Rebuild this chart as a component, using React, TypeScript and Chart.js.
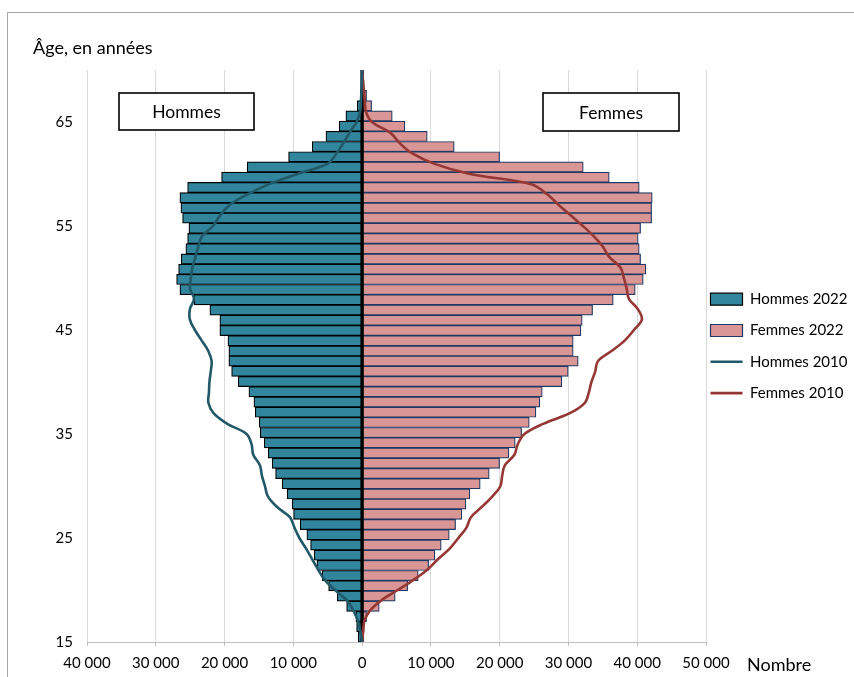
import React, { useEffect, useRef } from 'react';
import { Chart, registerables } from 'chart.js';

Chart.register(...registerables);

const FONT = 'Lato, "Noto Sans", sans-serif';

// Ages (one bar per year of age, 15 to 70)
const AGES = [
  15, 16, 17, 18, 19, 20, 21, 22, 23, 24, 25, 26, 27, 28, 29, 30, 31, 32, 33, 34,
  35, 36, 37, 38, 39, 40, 41, 42, 43, 44, 45, 46, 47, 48, 49, 50, 51, 52, 53, 54,
  55, 56, 57, 58, 59, 60, 61, 62, 63, 64, 65, 66, 67, 68, 69, 70,
];

const HOMMES_2022 = [
  -570, -800, -900, -2250, -3620, -4870, -5800, -6570, -6960, -7490,
  -8030, -9000, -9960, -10160, -10890, -11620, -12580, -13070, -13650, -14230,
  -14810, -14960, -15540, -15730, -16460, -18010, -18970, -19370, -19370, -19510,
  -20680, -20680, -22130, -24410, -26490, -26970, -26680, -26300, -25620, -25370,
  -25180, -26100, -26340, -26490, -25370, -20430, -16710, -10690, -7250, -5260,
  -3330, -2360, -710, -250, -100, -40,
];

const FEMMES_2022 = [
  150, 300, 650, 2490, 4810, 6620, 8160, 9670, 10580, 11500,
  12670, 13590, 14510, 15090, 15670, 17170, 18480, 19990, 21340, 22260,
  23190, 24300, 25270, 25850, 26190, 29050, 29970, 31420, 30690, 30690,
  31810, 32000, 33510, 36510, 39710, 40870, 41260, 40490, 40290, 40140,
  40490, 42090, 42090, 42180, 40290, 35930, 32150, 19990, 13390, 9470,
  6220, 4380, 1380, 650, 300, 100,
];

const HOMMES_2010 = [
  0, -250, -600, -1250, -2210, -3950, -5470, -6430, -7300, -8170,
  -9120, -9840, -10500, -12400, -13700, -14130, -14570, -14860, -15830, -16070,
  -16800, -19660, -21600, -22350, -22270, -22200, -22010, -21880, -22380, -23340,
  -24310, -25040, -25040, -24450, -25040, -24890, -24670, -24240, -23830, -23290,
  -21690, -20670, -19300, -16800, -13600, -9400, -5000, -3700, -2700, -1800,
  -800, -300, -170, -100, -30, 0,
];

const FEMMES_2010 = [
  0, 150, 330, 1130, 2800, 5200, 7530, 9570, 11090, 12770,
  14000, 15170, 15820, 17420, 18950, 20110, 20370, 20760, 22140, 22620,
  23600, 26400, 30200, 32390, 32970, 33340, 33890, 34280, 36320, 38210,
  39520, 40680, 40100, 38790, 38460, 38060, 37560, 35960, 35000, 33700,
  32100, 30360, 28620, 27000, 24700, 15700, 10440, 7240, 5420, 4040,
  1430, 550, 400, 260, 120, 0,
];

const AGE_TICKS = [15, 25, 35, 45, 55, 65];
const NUMBER_TICKS = [-40000, -30000, -20000, -10000, 0, 10000, 20000, 30000, 40000, 50000];
const SERIES = ['Hommes 2022', 'Femmes 2022', 'Hommes 2010', 'Femmes 2010'];
const Y_TITLE = 'Âge, en années';
const X_TITLE = 'Nombre';
const SIDE_LABELS = ['Hommes', 'Femmes'];

const COL_H22 = '#31859C';
const COL_F22 = '#D99694';
const COL_H10 = '#215968';
const COL_F10 = '#953735';

const fmt = (v: number) => String(Math.abs(v)).replace(/\B(?=(\d{3})+(?!\d))/g, ' ');

const decorations = {
  id: 'decorations',
  afterDraw(chart: any) {
    const { ctx, chartArea } = chart;
    ctx.save();
    ctx.fillStyle = '#000';
    ctx.font = `18px ${FONT}`;
    ctx.textAlign = 'left';
    ctx.textBaseline = 'alphabetic';
    ctx.fillText(Y_TITLE, 33, 54);
    ctx.textBaseline = 'middle';
    ctx.fillText(X_TITLE, chartArea.right + 41, 665);

    const boxes = [
      { text: SIDE_LABELS[0], x: 119, y: 93, w: 135, h: 37 },
      { text: SIDE_LABELS[1], x: 543, y: 93, w: 136, h: 38 },
    ];
    for (const b of boxes) {
      ctx.fillStyle = '#fff';
      ctx.fillRect(b.x, b.y, b.w, b.h);
      ctx.strokeStyle = '#000';
      ctx.lineWidth = 1.6;
      ctx.strokeRect(b.x, b.y, b.w, b.h);
      ctx.fillStyle = '#000';
      ctx.font = `17.5px ${FONT}`;
      ctx.textAlign = 'center';
      ctx.textBaseline = 'middle';
      ctx.fillText(b.text, b.x + b.w / 2, b.y + b.h / 2 + 1);
    }
    ctx.restore();
  },
};

const RANK: Record<number, number> = { 3: 0, 4: 1, 0: 2, 1: 3 };

export default function App() {
  const ref = useRef<HTMLCanvasElement>(null);

  useEffect(() => {
    if (!ref.current) return;
    const chart = new Chart(ref.current, {
      type: 'bar',
      data: {
        datasets: [
          {
            type: 'line',
            label: SERIES[2],
            data: AGES.map((a, i) => ({ x: HOMMES_2010[i], y: a })),
            yAxisID: 'y',
            xAxisID: 'x',
            indexAxis: 'y',
            borderColor: COL_H10,
            backgroundColor: COL_H10,
            borderWidth: 2.6,
            pointRadius: 0,
            tension: 0.35,
          } as any,
          {
            type: 'line',
            label: SERIES[3],
            data: AGES.map((a, i) => ({ x: FEMMES_2010[i], y: a })),
            yAxisID: 'y',
            xAxisID: 'x',
            indexAxis: 'y',
            borderColor: COL_F10,
            backgroundColor: COL_F10,
            borderWidth: 2.6,
            pointRadius: 0,
            tension: 0.35,
          } as any,
          {
            type: 'line',
            label: 'axe',
            data: [
              { x: 0, y: AGES[0] },
              { x: 0, y: AGES[AGES.length - 1] },
            ],
            yAxisID: 'y',
            xAxisID: 'x',
            indexAxis: 'y',
            borderColor: '#000',
            borderWidth: 3.4,
            pointRadius: 0,
          } as any,
          {
            type: 'bar',
            label: SERIES[0],
            data: AGES.map((a, i) => ({ x: HOMMES_2022[i], y: a + 0.5 })),
            yAxisID: 'yBar',
            xAxisID: 'x',
            indexAxis: 'y',
            grouped: false,
            backgroundColor: COL_H22,
            borderColor: '#000',
            borderWidth: 1.2,
            categoryPercentage: 1,
            barPercentage: 1,
          } as any,
          {
            type: 'bar',
            label: SERIES[1],
            data: AGES.map((a, i) => ({ x: FEMMES_2022[i], y: a + 0.5 })),
            yAxisID: 'yBar',
            xAxisID: 'x',
            indexAxis: 'y',
            grouped: false,
            backgroundColor: COL_F22,
            borderColor: '#1F3864',
            borderWidth: 1.2,
            categoryPercentage: 1,
            barPercentage: 1,
          } as any,
        ],
      },
      options: {
        indexAxis: 'y',
        animation: false,
        responsive: false,
        maintainAspectRatio: false,
        layout: { padding: { top: 70, right: 0, bottom: 0, left: 0 } },
        font: { family: FONT },
        scales: {
          x: {
            type: 'linear',
            min: -40000,
            max: 50000,
            offset: false,
            afterBuildTicks: (s: any) => {
              s.ticks = NUMBER_TICKS.map((v) => ({ value: v }));
            },
            afterFit: (s: any) => {
              s.height = 35;
            },
            ticks: {
              callback: (v: any) => fmt(Number(v)),
              font: { family: FONT, size: 15 },
              color: '#000',
              padding: 8,
              maxRotation: 0,
              autoSkip: false,
            },
            grid: { color: '#d9d9d9', lineWidth: 1, tickLength: 4, drawTicks: true, tickColor: '#bfbfbf', offset: false },
            border: { display: true, color: '#bfbfbf', width: 1 },
          },
          y: {
            type: 'linear',
            position: 'left',
            min: 15,
            max: 70,
            offset: false,
            afterBuildTicks: (s: any) => {
              s.ticks = AGE_TICKS.map((v) => ({ value: v }));
            },
            afterFit: (s: any) => {
              s.width = 87;
            },
            ticks: {
              font: { family: FONT, size: 15 },
              color: '#000',
              padding: 14,
              autoSkip: false,
            },
            grid: { display: false, drawTicks: false, offset: false },
            border: { display: false },
          },
          yBar: {
            type: 'linear',
            position: 'left',
            min: 15,
            max: 71,
            offset: false,
            grid: { offset: false },
            display: false,
          },
        } as any,
        plugins: {
          tooltip: { enabled: false },
          legend: {
            position: 'right',
            align: 'start',
            fullSize: false,
            maxWidth: 148,
            title: { display: true, text: ' ', font: { size: 10 }, padding: { top: 205.2, bottom: 0 } },
            labels: {
              usePointStyle: true,
              pointStyleWidth: 32,
              boxWidth: 32,
              boxHeight: 12,
              padding: 4.5,
              color: '#000',
              font: { family: FONT, size: 15, lineHeight: 26.8 / 15 },
              generateLabels: (ch: any) => {
                const items = Chart.defaults.plugins.legend.labels.generateLabels(ch);
                return items
                  .filter((it: any) => it.datasetIndex !== 2)
                  .map((it: any) => {
                    const ds: any = ch.data.datasets[it.datasetIndex];
                    const isLine = ds.type === 'line';
                    return {
                      ...it,
                      text: [it.text],
                      pointStyle: isLine ? 'line' : 'rect',
                      lineWidth: isLine ? 2.6 : 1.2,
                      strokeStyle: ds.borderColor,
                      fillStyle: isLine ? ds.borderColor : ds.backgroundColor,
                      fontColor: '#000',
                    };
                  })
                  .sort((a: any, b: any) => RANK[a.datasetIndex] - RANK[b.datasetIndex]);
              },
            },
          } as any,
        },
      } as any,
      plugins: [decorations],
    });
    return () => chart.destroy();
  }, []);

  return (
    <div
      style={{
        position: 'fixed',
        left: 0,
        top: 0,
        width: 854,
        height: 677,
        background: '#fff',
        overflow: 'hidden',
      }}
    >
      <div
        style={{
          position: 'absolute',
          left: 7,
          top: 12,
          width: 900,
          height: 700,
          border: '1px solid #a6a6a6',
        }}
      />
      <canvas
        ref={ref}
        width={854}
        height={677}
        style={{ position: 'absolute', left: 0, top: 0, width: 854, height: 677 }}
      />
    </div>
  );
}
